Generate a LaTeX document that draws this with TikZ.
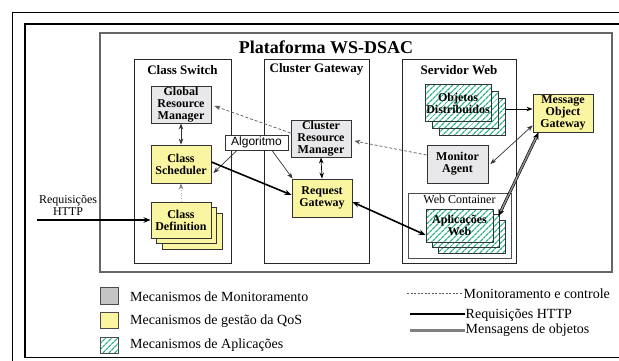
\documentclass[tikz,border=0pt]{standalone}
\usepackage{fontspec}
\setmainfont{Liberation Serif}
\newfontfamily\algofont{Liberation Sans}
\usetikzlibrary{arrows.meta,patterns.meta}

\definecolor{qosyellow}{RGB}{250,245,160}
\definecolor{monigray}{RGB}{232,232,234}
\definecolor{legendgray}{RGB}{196,196,196}
\definecolor{appgreen}{RGB}{40,178,128}

\tikzset{
  block/.style={draw=black!80, line width=0.9pt, minimum width=60pt, minimum height=37pt,
    inner sep=0.5pt, align=center, font=\fontsize{12}{12}\selectfont\bfseries},
  monblock/.style={block, fill=monigray},
  qosblock/.style={block, fill=qosyellow},
  appblock/.style={block, preaction={fill=white},
    pattern={Lines[angle=45,distance=4pt,line width=1.3pt]}, pattern color=appgreen},
  secbox/.style={draw=black!85, line width=0.8pt},
  sectitle/.style={font=\fontsize{13}{13}\selectfont\bfseries, inner sep=1pt},
  legtext/.style={font=\fontsize{14}{14}\selectfont, anchor=west, inner sep=2pt},
  link/.style={line width=0.7pt, draw=black!80, -{Stealth[length=6pt,width=4.5pt]}},
  dlink/.style={line width=0.7pt, draw=black!80, {Stealth[length=6pt,width=4.5pt]}-{Stealth[length=6pt,width=4.5pt]}},
  ctrl/.style={line width=0.7pt, draw=black!65, dash pattern=on 3pt off 2pt, -{Stealth[length=6pt,width=4.5pt]}},
  hint/.style={line width=0.7pt, draw=black!30, dotted, -{Stealth[length=6pt,width=4.5pt,black!50]}},
  http/.style={line width=1.6pt, -{Stealth[length=7pt,width=5.5pt]}},
  msg/.style={line width=0.6pt, double=black!45, double distance=1.6pt,
    {Stealth[length=7pt,width=6pt]}-{Stealth[length=7pt,width=6pt]}}
}

\begin{document}
\begin{tikzpicture}[x=1pt,y=-1pt]
\useasboundingbox (0,0) rectangle (619,360);

% moldura
\draw[line width=0.7pt] (12,362) -- (12,12) -- (622,12);
\draw[line width=1.5pt] (622,357.5) -- (25,357.5) -- (25,24) -- (622,24);

% plataforma
\node[draw=black!60, line width=1.2pt, minimum width=512pt, minimum height=239pt] (plat) at (356,152.5) {};
\node[font=\fontsize{18}{18}\selectfont\bfseries] (plattitle) at (326,47) {Plataforma WS-DSAC};

% subsistemas
\node[secbox, minimum width=97pt, minimum height=204pt] (cswitch) at (182.5,161) {};
\node[sectitle] (cswitchlbl) at ([yshift=-11pt]cswitch.north) {Class Switch};
\node[secbox, minimum width=105pt, minimum height=204pt] (cgate) at (316.5,161) {};
\node[sectitle] (cgatelbl) at ([yshift=-11pt]cgate.north) {Cluster Gateway};
\node[secbox, minimum width=114pt, minimum height=204pt] (sweb) at (459,161) {};
\node[sectitle] (sweblbl) at ([yshift=-11pt]sweb.north) {Servidor Web};
\node[draw=black!70, line width=0.8pt, minimum width=103pt, minimum height=65pt] (wcont) at (459.5,225.5) {};
\node[font=\fontsize{12}{12}\selectfont, anchor=north, inner sep=1pt] (wcontlbl) at ([yshift=-1pt]wcont.north) {Web Container};

% Class Switch
\node[monblock] (grm) at (181,104.5) {Global\\Resource\\Manager};
\node[qosblock, minimum height=38pt] (csched) at (181,164) {Class\\Scheduler};
\node[qosblock, minimum height=36pt] (cdef3) at (192,231) {};
\node[qosblock, minimum height=36pt] (cdef2) at (186.5,225.5) {};
\node[qosblock, minimum height=36pt] (cdef) at (181,220) {Class\\Definition};

% Cluster Gateway
\node[monblock] (crm) at (321,138.5) {Cluster\\Resource\\Manager};
\node[qosblock, minimum height=38pt] (rgw) at (322,198) {Request\\Gateway};

% Servidor Web
\node[appblock, minimum width=66pt] (objd3) at (472,117) {};
\node[appblock, minimum width=66pt] (objd2) at (465,110) {};
\node[appblock, minimum width=66pt] (objd) at (458,103) {Objetos\\Distribuidos};
\node[monblock, minimum width=61pt, minimum height=38pt] (magent) at (457.5,164) {Monitor\\Agent};
\node[appblock, minimum width=67pt, minimum height=33pt] (apps3) at (471.5,236.5) {};
\node[appblock, minimum width=67pt, minimum height=33pt] (apps2) at (465.5,231) {};
\node[appblock, minimum width=67pt, minimum height=33pt] (apps) at (459.5,225.5) {Aplicações\\Web};
\node[qosblock, minimum height=38pt] (mog) at (563,113) {Message\\Object\\Gateway};

\node[draw=black!80, line width=0.8pt, fill=white, font=\algofont\fontsize{12}{12}\selectfont,
  minimum width=63pt, minimum height=15pt, inner sep=1pt] (algo) at (256.5,142.5) {Algoritmo};

% conexoes
\draw[dlink] (grm.south) -- (csched.north);
\draw[hint] (cdef.north) -- (csched.south);
\draw[ctrl] ([yshift=5.5pt]crm.west) -- ([xshift=3pt,yshift=-1.5pt]grm.east);
\draw[ctrl] ([yshift=9pt]magent.west) -- ([xshift=3pt,yshift=-2.5pt]crm.east);
\draw[link] ([xshift=-19.5pt]algo.south) -- ([xshift=2pt,yshift=-9pt]csched.east);
\draw[link] ([xshift=15.5pt]algo.south) -- ([xshift=1pt]rgw.north west);
\draw[dlink, draw=black] (crm.south) -- (rgw.north);
\draw[http] ([yshift=2pt]csched.east) -- ([yshift=3pt]rgw.west);
\draw[http, {Stealth[length=7pt,width=5.5pt]}-{Stealth[length=7pt,width=5.5pt]}] ([yshift=-4pt]rgw.east) -- ([yshift=-9.5pt]apps.west);
\draw[link, line width=0.9pt, draw=black] ([yshift=4pt]mog.west -| objd3.east) -- ([yshift=4pt]mog.west);
\draw[dlink] ([xshift=2pt]magent.east) -- ([yshift=7pt]mog.south west);
\draw[msg] ([xshift=-1pt,yshift=-2pt]apps2.north east) -- ([xshift=6pt]mog.south west);

% entrada
\coordinate (reqin) at (37,220);
\node[font=\fontsize{12}{12}\selectfont, align=center] (reqlbl) at (68,205) {Requisições\\HTTP};
\draw[http, line width=1.3pt] (reqin) -- (cdef.west);

% legenda
\node[draw=black!70, fill=legendgray, minimum width=18pt, minimum height=17pt, inner sep=0pt] (lgmon) at (109,295.5) {};
\node[legtext] (lgmontxt) at (128,297) {Mecanismos de Monitoramento};
\node[draw=black!70, fill=qosyellow, minimum width=18pt, minimum height=16pt, inner sep=0pt] (lgqos) at (109,320.5) {};
\node[legtext] (lgqostxt) at (128,321) {Mecanismos de gestão da QoS};
\node[draw=black!70, preaction={fill=white}, pattern={Lines[angle=45,distance=4pt,line width=1.3pt]}, pattern color=appgreen,
  minimum width=18pt, minimum height=16pt, inner sep=0pt] (lgapp) at (109,345.5) {};
\node[legtext] (lgapptxt) at (128,345) {Mecanismos de Aplicações};

\coordinate (lgctlin) at (407,293);
\node[legtext, inner sep=0.5pt] (lgctl) at (463,294) {Monitoramento e controle};
\draw[line width=0.6pt, draw=black!65, dash pattern=on 2pt off 1.5pt] (lgctlin) -- (lgctl.west |- lgctlin);
\coordinate (lghttpin) at (410,314);
\node[legtext, inner sep=0.5pt] (lghttp) at (465,315) {Requisições HTTP};
\draw[line width=1.8pt] (lghttpin) -- (lghttp.west |- lghttpin);
\coordinate (lgmsgin) at (410,330);
\node[legtext, inner sep=0.5pt] (lgmsg) at (465,330.5) {Mensagens de objetos};
\draw[line width=3pt, draw=black!50] (lgmsgin) -- (lgmsg.west |- lgmsgin);
\end{tikzpicture}
\end{document}
